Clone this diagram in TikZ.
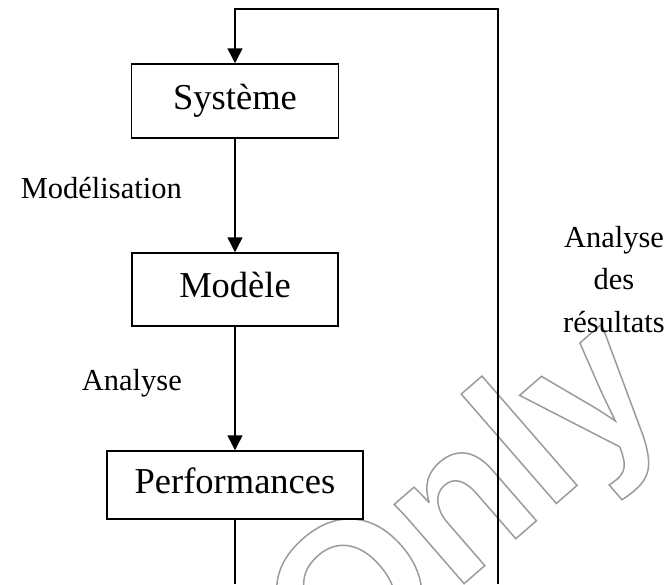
\documentclass[tikz,border=0pt]{standalone}
\usepackage{fontspec}
\setmainfont{Liberation Serif}
\newfontfamily\wmfont{Liberation Sans Bold}
\usetikzlibrary{arrows.meta}
\definecolor{wmgray}{RGB}{155,155,155}
% outlined (stroked, unfilled) text through the PDF text rendering mode
\newcommand{\outlinetext}[2]{%
  \special{pdf:literal 1 Tr #1 w}#2\special{pdf:literal 0 Tr}}
\tikzset{
  stagebox/.style={draw, line width=1.5pt, minimum height=#1, inner sep=0pt,
    text height=26pt, text depth=10pt, font=\fontsize{36.5}{40}\selectfont},
  flow/.style={line width=1.5pt, -{Triangle[width=15pt,length=15pt]}},
  plain/.style={line width=1.5pt},
  lbl/.style={font=\fontsize{30.5}{34}\selectfont, inner sep=0pt}
}
\begin{document}
\begin{tikzpicture}[x=1pt, y=-1pt]
\useasboundingbox (0,0) rectangle (669,584);
\clip (0,0) rectangle (669,584);

% background watermark
\node[rotate=41, anchor=base west, inner sep=0pt, text=wmgray] (wm)
  at (336,695)
  {\wmfont\fontsize{200}{200}\selectfont\outlinetext{1.5}{Only}};

% stages
\node[stagebox=74pt, minimum width=207pt] (sys)  at (235,101)   {Système};
\node[stagebox=73pt, minimum width=206pt] (mod)  at (235,289.5) {Modèle};
\node[stagebox=68pt, minimum width=256pt] (perf) at (235,485)   {Performances};

% loop corners
\coordinate (tl) at (235,9);
\coordinate (tr) at (498,9);
\coordinate (br) at (498,584);
\coordinate (bl) at (235,584);

% connectors
\draw[flow] (sys) -- (mod);
\draw[flow] (mod) -- (perf);
\draw[plain] (perf) -- (bl);
\draw[flow] (br) -- (tr) -- (tl) -- (sys);

% labels
\node[lbl, anchor=base east] (lmod) at (182,198) {Modélisation};
\node[lbl, anchor=base east] (lana) at (182,390) {Analyse};
\node[lbl, anchor=base] (r1) at (614,247) {Analyse};
\node[lbl, anchor=base] (r2) at (614,289) {des};
\node[lbl, anchor=base] (r3) at (614,332) {résultats};
\end{tikzpicture}
\end{document}
